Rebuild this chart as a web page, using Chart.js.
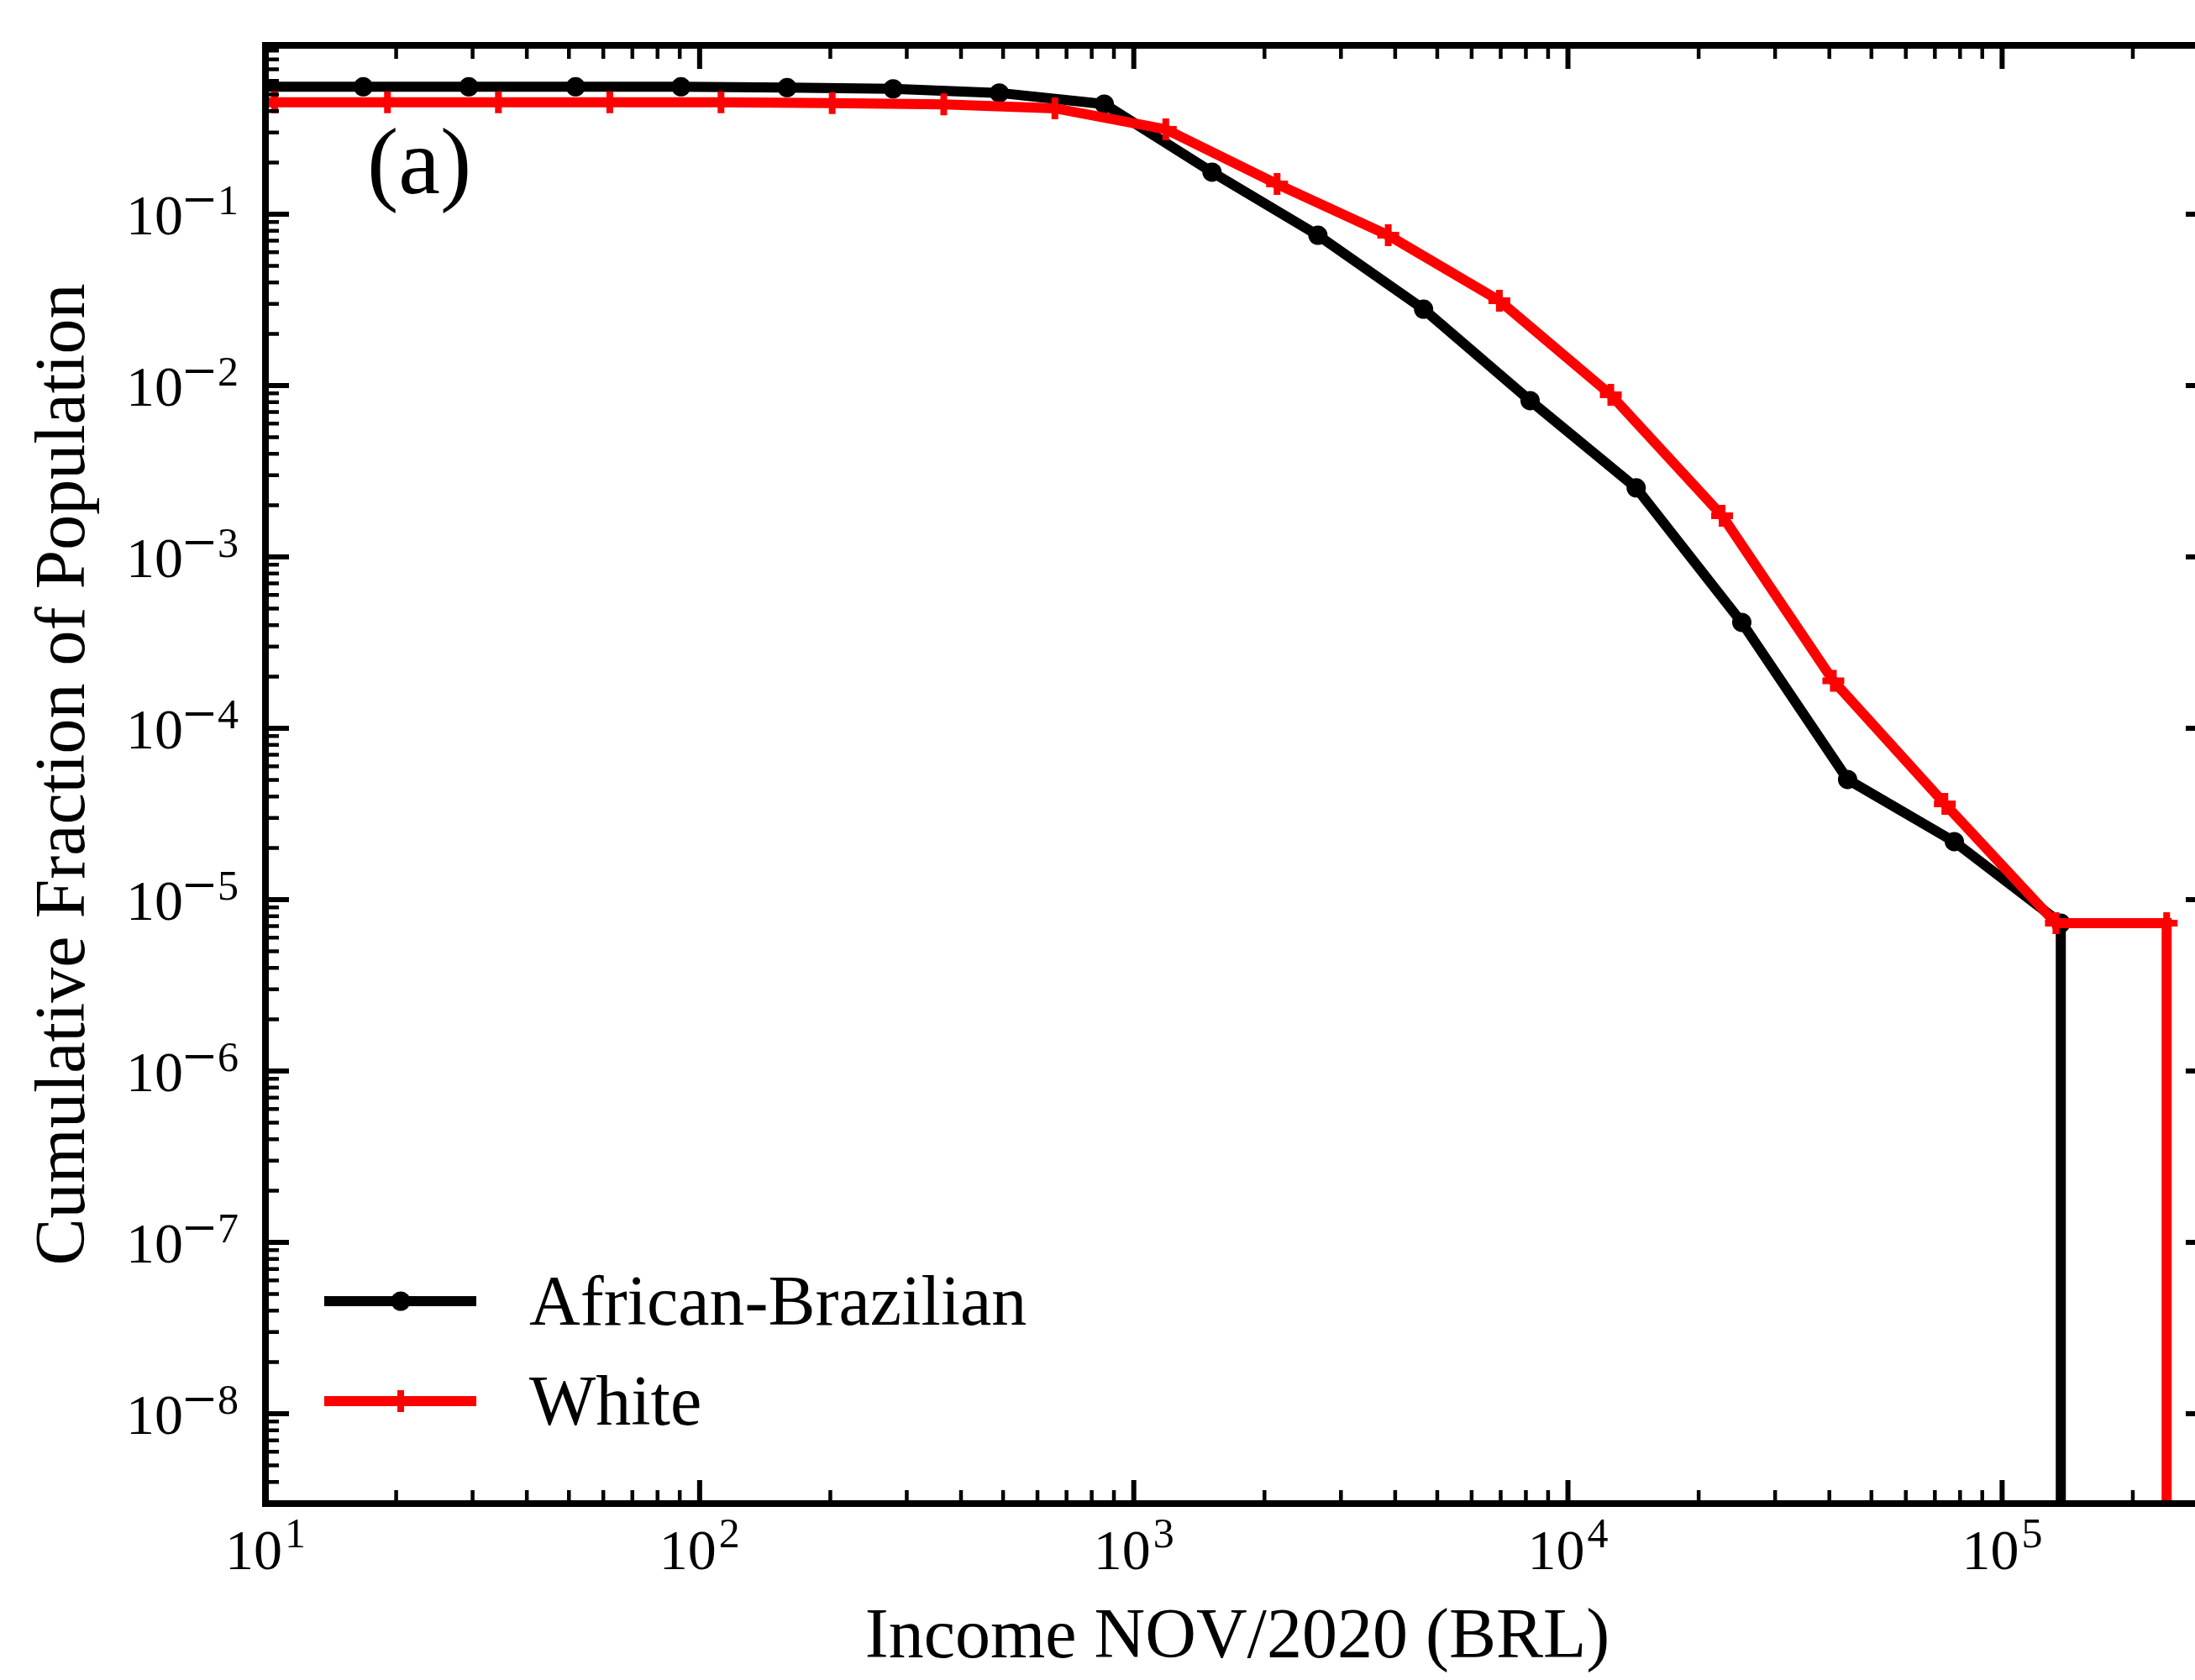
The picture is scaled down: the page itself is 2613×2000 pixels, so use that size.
<!DOCTYPE html>
<html lang="en">
<head>
<meta charset="utf-8">
<title>Cumulative income distribution</title>
<script src="https://cdn.jsdelivr.net/npm/chart.js"></script>
<style>
  html, body { margin: 0; padding: 0; background: #fff; overflow: hidden; }
  .c-chart { width: 2660px; height: 2000px; }
</style>
</head>
<body>
<div class="c-chart">
  <canvas id="incomeChart" width="2660" height="2000"></canvas>
</div>
<script>
// Data (income in BRL, cumulative fraction of population)
const blackIncome = [9.6, 16.8, 29.4, 51.8, 90.6, 159, 279, 490, 855, 1514, 2655, 4650, 8180, 14360, 25140, 44060, 77600, 136500];
const blackFraction = [0.554, 0.554, 0.554, 0.554, 0.554, 0.548, 0.539, 0.51, 0.439, 0.176, 0.0754, 0.0279, 0.00817, 0.00253, 4.15e-4, 5.03e-5, 2.18e-5, 7.29e-6];

const whiteIncome = [5.87, 10.5, 19.1, 34.4, 62.1, 112, 202, 365, 658, 1185, 2138, 3855, 6950, 12550, 22650, 40850, 73800, 133000, 239300];
const whiteFraction = [0.45, 0.45, 0.45, 0.45, 0.45, 0.45, 0.445, 0.437, 0.415, 0.313, 0.15, 0.0754, 0.0313, 0.00883, 0.00174, 1.89e-4, 3.62e-5, 7.29e-6, 7.29e-6];

const seriesNames = ["African-Brazilian", "White"];
const xTickExponents = [1, 2, 3, 4, 5];
const yTickExponents = [-1, -2, -3, -4, -5, -6, -7, -8];

const X_MIN = 10, X_MAX = 3e5;
const Y_MIN = 2.99e-9, Y_MAX = 0.9667;

const FONT = '"Liberation Serif", "Times New Roman", serif';

// Turn two arrays into points, last one drops to zero (drawn below the axis floor)
const makePoints = (xs, ys) => {
  const pts = xs.map((v, i) => ({ x: v, y: ys[i] }));
  pts.push({ x: xs[xs.length - 1], y: Y_MIN / 100, drop: true });
  return pts;
};

// Write "10" with a raised exponent (minus drawn wide like mathtext)
const drawPower = (ctx, exp, x, y, align, raise) => {
  const digits = String(Math.abs(exp));
  const minusW = exp < 0 ? 38 : 0;
  ctx.font = `68px ${FONT}`;
  const wBase = ctx.measureText("10").width;
  ctx.font = `50px ${FONT}`;
  const wDig = ctx.measureText(digits).width;
  const total = wBase + 3 + minusW + wDig;
  const left = align === "right" ? x - total : x - total / 2;
  ctx.textAlign = "left";
  ctx.textBaseline = "alphabetic";
  ctx.font = `68px ${FONT}`;
  ctx.fillText("10", left, y);
  let ex = left + wBase + 3;
  if (exp < 0) {
    ctx.fillRect(ex, y - raise - 19, minusW - 5, 4);
    ex += minusW;
  }
  ctx.font = `50px ${FONT}`;
  ctx.fillText(digits, ex, y - raise);
};

// Frame, inward ticks, labels, titles and legend
const framePlugin = {
  id: "frame",
  afterDraw(chart) {
    const ctx = chart.ctx;
    const a = chart.chartArea;
    const xs = chart.scales.x, ys = chart.scales.y;
    ctx.save();
    ctx.strokeStyle = "#000";
    ctx.fillStyle = "#000";
    ctx.lineCap = "butt";

    // x ticks (bottom + top)
    for (let d = 1; d <= 5; d++) {
      for (let m = 1; m <= 9; m++) {
        const v = m * Math.pow(10, d);
        if (v < X_MIN || v > X_MAX) continue;
        const px = xs.getPixelForValue(v);
        const len = m === 1 ? 28 : 16;
        ctx.lineWidth = m === 1 ? 6 : 4.5;
        ctx.beginPath();
        ctx.moveTo(px, a.bottom);
        ctx.lineTo(px, a.bottom - len);
        ctx.moveTo(px, a.top);
        ctx.lineTo(px, a.top + len);
        ctx.stroke();
      }
    }
    // y ticks (left + right)
    for (let d = -9; d <= 0; d++) {
      for (let m = 1; m <= 9; m++) {
        const v = m * Math.pow(10, d);
        if (v < Y_MIN || v > Y_MAX) continue;
        const py = ys.getPixelForValue(v);
        const len = m === 1 ? 28 : 16;
        ctx.lineWidth = m === 1 ? 6 : 4.5;
        ctx.beginPath();
        ctx.moveTo(a.left, py);
        ctx.lineTo(a.left + len, py);
        ctx.moveTo(a.right, py);
        ctx.lineTo(a.right - len, py);
        ctx.stroke();
      }
    }

    // spines
    ctx.lineWidth = 8;
    ctx.strokeRect(a.left, a.top, a.right - a.left, a.bottom - a.top);

    // tick labels
    for (const e of xTickExponents) {
      const px = xs.getPixelForValue(Math.pow(10, e));
      drawPower(ctx, e, px, a.bottom + 78, "center", 26);
    }
    for (const e of yTickExponents) {
      const py = ys.getPixelForValue(Math.pow(10, e));
      drawPower(ctx, e, a.left - 32, py + 24, "right", 24);
    }

    // axis titles
    ctx.font = `84px ${FONT}`;
    ctx.textAlign = "center";
    ctx.textBaseline = "alphabetic";
    ctx.fillText("Income NOV/2020 (BRL)", (a.left + a.right) / 2, 1973);
    ctx.save();
    ctx.translate(100, (a.top + a.bottom) / 2);
    ctx.rotate(-Math.PI / 2);
    ctx.fillText("Cumulative Fraction of Population", 0, 0);
    ctx.restore();

    // panel label
    ctx.font = `112px ${FONT}`;
    ctx.textAlign = "left";
    ctx.fillText("(a)", 437, 230);

    // legend
    const rows = [
      { y: 1549, color: "#000", marker: "circle" },
      { y: 1668, color: "#ff0000", marker: "cross" },
    ];
    rows.forEach((r, i) => {
      ctx.strokeStyle = r.color;
      ctx.fillStyle = r.color;
      ctx.lineWidth = 12;
      ctx.beginPath();
      ctx.moveTo(386, r.y);
      ctx.lineTo(567, r.y);
      ctx.stroke();
      if (r.marker === "circle") {
        ctx.beginPath();
        ctx.arc(477, r.y, 11.5, 0, Math.PI * 2);
        ctx.fill();
      } else {
        ctx.lineWidth = 8;
        ctx.beginPath();
        ctx.moveTo(477, r.y - 13);
        ctx.lineTo(477, r.y + 13);
        ctx.moveTo(464, r.y);
        ctx.lineTo(490, r.y);
        ctx.stroke();
      }
      ctx.fillStyle = "#000";
      ctx.font = `84px ${FONT}`;
      ctx.textAlign = "left";
      ctx.fillText(seriesNames[i], 630, r.y + 28);
    });

    ctx.restore();
  },
};

const drawChart = () => {
  const canvas = document.getElementById("incomeChart");
  new Chart(canvas, {
    type: "line",
    data: {
      datasets: [
        {
          label: seriesNames[0],
          data: makePoints(blackIncome, blackFraction),
          borderColor: "#000",
          backgroundColor: "#000",
          borderWidth: 12,
          pointStyle: "circle",
          pointRadius: (c) => (c.raw && c.raw.drop ? 0 : 11.5),
          pointBorderWidth: 0,
          pointBackgroundColor: "#000",
          tension: 0,
          clip: 0,
          order: 2,
        },
        {
          label: seriesNames[1],
          data: makePoints(whiteIncome, whiteFraction),
          borderColor: "#ff0000",
          backgroundColor: "#ff0000",
          borderWidth: 12,
          pointStyle: "cross",
          pointRadius: (c) => (c.raw && c.raw.drop ? 0 : 13),
          pointBorderWidth: 8,
          pointBorderColor: "#ff0000",
          tension: 0,
          clip: 0,
          order: 1,
        },
      ],
    },
    options: {
      responsive: false,
      devicePixelRatio: 1,
      animation: false,
      layout: { padding: { left: 316, top: 54, right: 30, bottom: 210 } },
      scales: {
        x: { type: "logarithmic", min: X_MIN, max: X_MAX, display: false },
        y: { type: "logarithmic", min: Y_MIN, max: Y_MAX, display: false },
      },
      plugins: {
        legend: { display: false },
        tooltip: { enabled: false },
      },
    },
    plugins: [framePlugin],
  });
};

document.addEventListener("DOMContentLoaded", function () {
  drawChart();
});
</script>
</body>
</html>
